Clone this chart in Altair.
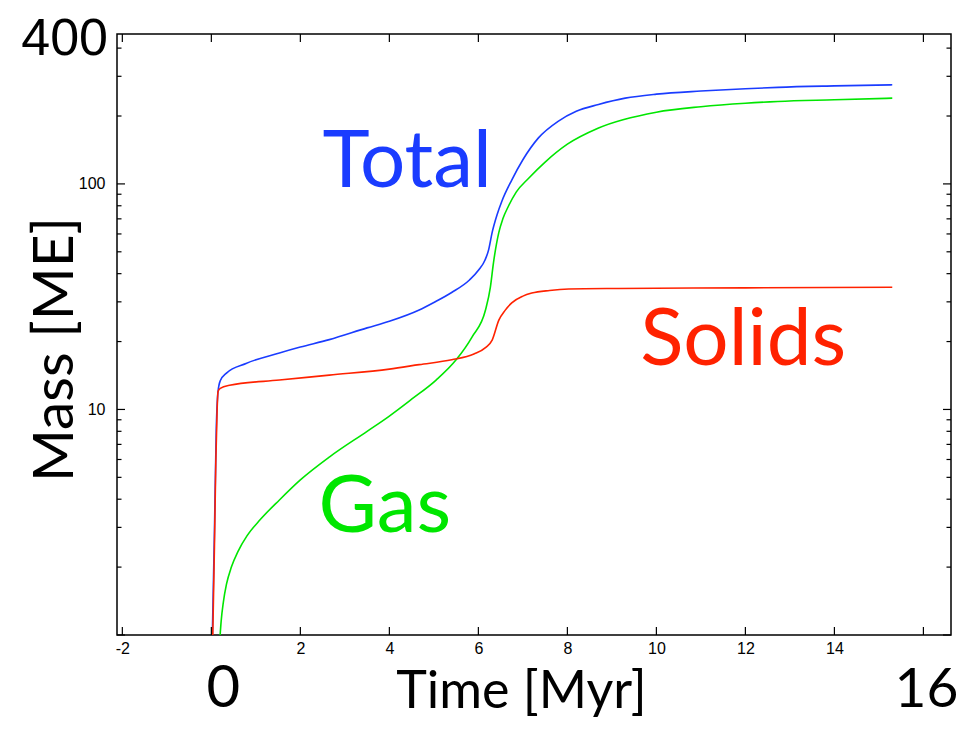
import altair as alt
import pandas as pd

# ---- data ----
total_t = [0.02, 0.07, 0.11, 0.15, 0.2, 0.34, 0.78, 1.53, 2.0, 2.65, 3.5, 4.0, 4.67, 5.0, 5.4, 5.8, 6.01, 6.15,
           6.23, 6.31, 6.42, 6.53, 6.75, 7.0, 7.35, 7.8, 8.2, 8.7, 9.3, 10.0, 11.0, 12.0, 12.73, 14.0, 15.3]
total_m = [0.95, 2.9, 8.1, 12.0, 13.4, 14.5, 16.0, 17.8, 18.9, 20.4, 23.0, 24.6, 27.6, 29.8, 33.0, 37.5, 41.6, 46.0,
           51.0, 61.0, 73.0, 84.0, 104.0, 128.0, 160.0, 190.0, 210.0, 225.0, 240.0, 250.0, 258.0, 264.0, 268.0,
           272.0, 275.0]

gas_t = [0.19, 0.22, 0.27, 0.34, 0.45, 0.6, 0.8, 1.1, 1.53, 2.0, 2.65, 3.5, 4.0, 4.5, 5.05, 5.5, 5.86, 6.16,
         6.27, 6.34, 6.46, 6.55, 6.68, 6.85, 7.13, 7.5, 8.0, 8.7, 10.0, 11.0, 12.0, 12.73, 14.0, 15.3]
gas_m = [0.95, 1.15, 1.4, 1.68, 2.0, 2.35, 2.75, 3.25, 3.97, 4.87, 6.15, 8.0, 9.35, 11.1, 13.5, 16.6, 21.0, 27.6,
         34.9, 44.8, 61.0, 70.0, 80.0, 92.0, 106.0, 125.0, 150.0, 177.0, 208.0, 220.0, 228.0, 232.0, 236.0, 240.0]

solids_t = [0.03, 0.07, 0.1, 0.13, 0.15, 0.2, 0.41, 1.53, 2.65, 4.0, 4.67, 5.4, 5.9, 6.16, 6.31, 6.46, 6.6,
            6.75, 7.0, 7.2, 7.6, 8.03, 9.15, 12.0, 15.3]
solids_m = [0.95, 2.5, 5.8, 10.0, 12.0, 12.4, 12.8, 13.5, 14.2, 15.1, 15.8, 16.6, 17.6, 18.8, 20.3, 24.9, 27.5,
            29.7, 31.8, 32.8, 33.7, 34.2, 34.4, 34.6, 34.8]

series_names = ["Total", "Gas", "Solids"]
series_colors = ["#1a3cff", "#00e600", "#ff2200"]

x_tick_values = [-2, 0, 2, 4, 6, 8, 10, 12, 14, 16]
x_label_values = [-2, 2, 4, 6, 8, 10, 12, 14]
y_major_ticks = [1, 10, 100]
y_minor_ticks = [2, 3, 4, 5, 6, 7, 8, 9, 20, 30, 40, 50, 60, 70, 80, 90, 200, 300, 400]
y_label_values = [10, 100]

# annotation labels (in data coordinates)
ann_text = ["Total", "Gas", "Solids"]
ann_t = [4.4, 3.9, 11.95]
ann_m = [97.0, 2.86, 15.8]

W, H = 834, 601

rows = []
for name, ts, ms in [("Total", total_t, total_m), ("Gas", gas_t, gas_m), ("Solids", solids_t, solids_m)]:
    for t, m in zip(ts, ms):
        rows.append({"series": name, "t": t, "m": m})
lines_df = pd.DataFrame(rows)

xs = alt.Scale(domain=[-2.12, 16.62], nice=False, zero=False)
ys = alt.Scale(type="log", domain=[1, 462], nice=False)
cs = alt.Scale(domain=series_names, range=series_colors)

xaxis = alt.Axis(values=x_label_values, labelExpr="'' + datum.value", ticks=False, domain=False,
                 grid=False, labelFontSize=16, labelFont="Liberation Sans", labelColor="black",
                 labelPadding=5, title="Time [Myr]", titleFont="Lato", titleFontSize=52,
                 titleFontWeight="normal", titleColor="black", titleX=404, titlePadding=10)
yaxis = alt.Axis(values=y_label_values, format="d", ticks=False, domain=False, grid=False,
                 labelFontSize=16, labelFont="Liberation Sans", labelColor="black",
                 labelPadding=12, title="Mass [ME]", titleFont="Lato", titleFontSize=57,
                 titleFontWeight="normal", titleColor="black", titleY=315, titleX=-45,
                 titleBaseline="alphabetic")

lines = alt.Chart(lines_df).mark_line(clip=True, strokeWidth=1.6, interpolate="monotone").encode(
    x=alt.X("t:Q", scale=xs, axis=xaxis),
    y=alt.Y("m:Q", scale=ys, axis=yaxis),
    color=alt.Color("series:N", scale=cs, legend=None),
    detail="series:N",
)

xt_df = pd.DataFrame({"v": x_tick_values})
bottom_ticks = alt.Chart(xt_df).mark_rule(color="black", strokeWidth=1.2).encode(
    x=alt.X("v:Q", scale=xs, axis=xaxis), y=alt.value(H), y2=alt.value(H - 8))
top_ticks = alt.Chart(xt_df).mark_rule(color="black", strokeWidth=1.2).encode(
    x=alt.X("v:Q", scale=xs, axis=xaxis), y=alt.value(0), y2=alt.value(8))

ymaj_df = pd.DataFrame({"v": y_major_ticks})
ymin_df = pd.DataFrame({"v": y_minor_ticks})
left_major = alt.Chart(ymaj_df).mark_rule(color="black", strokeWidth=1.2).encode(
    y=alt.Y("v:Q", scale=ys, axis=yaxis), x=alt.value(0), x2=alt.value(8))
right_major = alt.Chart(ymaj_df).mark_rule(color="black", strokeWidth=1.2).encode(
    y=alt.Y("v:Q", scale=ys, axis=yaxis), x=alt.value(W), x2=alt.value(W - 8))
left_minor = alt.Chart(ymin_df).mark_rule(color="black", strokeWidth=1.2).encode(
    y=alt.Y("v:Q", scale=ys, axis=yaxis), x=alt.value(0), x2=alt.value(4.5))
right_minor = alt.Chart(ymin_df).mark_rule(color="black", strokeWidth=1.2).encode(
    y=alt.Y("v:Q", scale=ys, axis=yaxis), x=alt.value(W), x2=alt.value(W - 4.5))

ann_df = pd.DataFrame({"text": ann_text, "t": ann_t, "m": ann_m, "series": ann_text})
annotations = alt.Chart(ann_df).mark_text(font="Lato", fontSize=80, align="center",
                                          baseline="alphabetic").encode(
    x=alt.X("t:Q", scale=xs, axis=xaxis),
    y=alt.Y("m:Q", scale=ys, axis=yaxis),
    text="text:N",
    color=alt.Color("series:N", scale=cs, legend=None),
)

zero_df = pd.DataFrame({"v": [0], "label": ["0"]})
big_zero = alt.Chart(zero_df).mark_text(font="Lato", fontSize=58, align="center", baseline="alphabetic",
                                        dx=12, color="black").encode(
    x=alt.X("v:Q", scale=xs, axis=xaxis), y=alt.value(673), text="label:N")

sixteen_df = pd.DataFrame({"v": [16], "label": ["16"]})
big_sixteen = alt.Chart(sixteen_df).mark_text(font="Lato", fontSize=55, align="right",
                                              baseline="alphabetic", dx=35, color="black").encode(
    x=alt.X("v:Q", scale=xs, axis=xaxis), y=alt.value(673), text="label:N")

big_y_df = pd.DataFrame({"label": ["400"]})
big_y = alt.Chart(big_y_df).mark_text(font="Liberation Sans", fontSize=52, align="right",
                                      baseline="alphabetic", color="black").encode(
    x=alt.value(-9), y=alt.value(21), text="label:N")

chart = alt.layer(
    lines, bottom_ticks, top_ticks, left_major, right_major, left_minor, right_minor,
    annotations, big_zero, big_sixteen, big_y
).properties(
    width=W, height=H,
    autosize=alt.AutoSizeParams(type="none"),
    padding={"left": 109, "top": 26, "right": 9, "bottom": 86},
).configure_view(stroke="black", strokeWidth=1.5)

chart.save("out.html", embed_options={"renderer": "svg", "actions": False})
